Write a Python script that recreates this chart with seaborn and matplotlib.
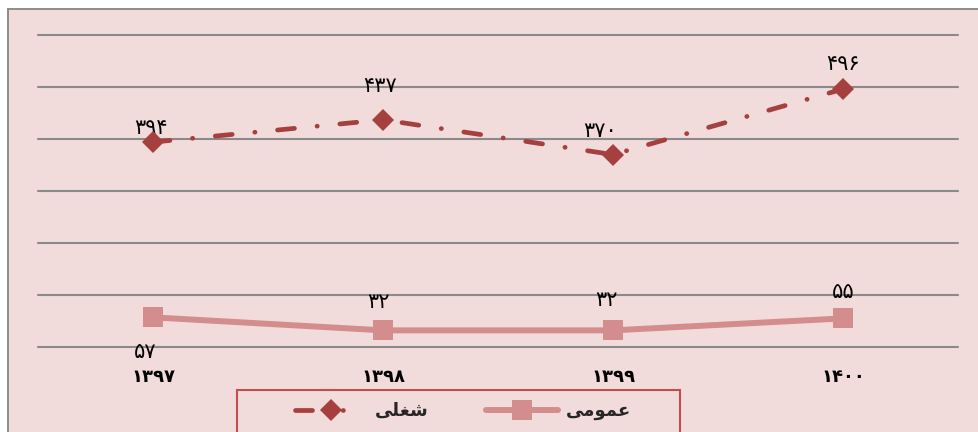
import matplotlib
matplotlib.use("Agg")
import matplotlib.pyplot as plt
from matplotlib.patches import Rectangle
import seaborn as sns
import pandas as pd

# Data
years = ["۱۳۹۷", "۱۳۹۸", "۱۳۹۹", "۱۴۰۰"]
shoghli = [394, 437, 370, 496]
omoomi = [57, 32, 32, 55]

# Persian labels written with presentation forms in visual (left-to-right) order
name_shoghli = "\uFBFD\uFEE0\uFED0\uFEB7"          # شغلی
name_omoomi = "\uFBFD\uFEE3\uFEEE\uFEE4\uFECB"     # عمومی

def fa_digits(n):
    return str(n).translate(str.maketrans("0123456789", "۰۱۲۳۴۵۶۷۸۹"))

sns.set_theme(style="white")
plt.rcParams["font.family"] = ["DejaVu Sans"]

W, H = 979, 432
fig = plt.figure(figsize=(W / 100, H / 100), dpi=100)
fig.patch.set_facecolor("white")

bg = "#F2DCDB"
# chart area background with its grey border
fig.add_artist(Rectangle((8 / W, -0.1), 1.2, (H - 9) / H + 0.1,
                         transform=fig.transFigure, facecolor=bg,
                         edgecolor="#8C8C8C", linewidth=1.4, zorder=-10))
# legend box
fig.add_artist(Rectangle((237 / W, -0.1), (680 - 237) / W, (H - 390) / H + 0.1,
                         transform=fig.transFigure, facecolor="none",
                         edgecolor="#C0504D", linewidth=1.5, zorder=-5))

ax = fig.add_axes([38 / W, (H - 347) / H, (958 - 38) / W, (347 - 35) / H])
ax.set_facecolor("none")
ax.set_zorder(1)

idx = list(range(len(years)))
df = pd.DataFrame({"idx": idx, "shoghli": shoghli, "omoomi": omoomi})

c_dark = "#A5403F"
c_light = "#D38D8C"
dash_pattern = (3.6, 4.8, 0.05, 4.8)

sns.lineplot(data=df, x="idx", y="shoghli", ax=ax, color=c_dark, marker="D",
             markersize=11.5, linewidth=3.4, markeredgewidth=0, label=name_shoghli,
             zorder=4)
l1 = ax.lines[-1]
l1.set_dashes(dash_pattern)
l1.set_dash_capstyle("round")

sns.lineplot(data=df, x="idx", y="omoomi", ax=ax, color=c_light, marker="s",
             markersize=14, linewidth=4.3, markeredgewidth=0, label=name_omoomi,
             zorder=3)

ax.set_xlim(-0.5, 3.5)
ax.set_ylim(0, 600)
ax.set_yticks(range(0, 601, 100))
ax.yaxis.grid(True, color="#8A8A8A", linewidth=1.5)
for gl in ax.get_ygridlines():
    gl.set_clip_on(False)
ax.xaxis.grid(False)
ax.tick_params(axis="y", left=False, labelleft=False)
ax.set_xticks(idx)
ax.set_xticklabels(years, fontsize=13, fontweight="bold", color="black")
ax.tick_params(axis="x", bottom=False, pad=9)
ax.set_xlabel("")
ax.set_ylabel("")
for s in ax.spines.values():
    s.set_visible(False)

# Value labels
off_top = [(-2, 14), (-3, 34), (-13, 24), (0, 25)]
off_bot = [(-8, -35), (-5, 28), (-7, 30), (0, 26)]
for i, v in enumerate(shoghli):
    ax.annotate(fa_digits(v), (i, v), xytext=off_top[i], textcoords="offset pixels",
                ha="center", va="center", fontsize=15, color="black")
for i, v in enumerate(omoomi):
    ax.annotate(fa_digits(v), (i, v), xytext=off_bot[i], textcoords="offset pixels",
                ha="center", va="center", fontsize=15, color="black")

ax.get_legend().remove()
h, l = ax.get_legend_handles_labels()
leg = fig.legend(h, l, loc="center",
                 bbox_to_anchor=(463 / W, (H - 411) / H),
                 ncol=2, frameon=False, borderaxespad=0,
                 handlelength=4.0, handletextpad=0.4, columnspacing=3.2,
                 prop={"size": 13, "weight": "bold"})
leg.get_lines()[0].set_dashes((3.6, 6.5, 0.05, 6.5))
leg.get_lines()[0].set_dash_capstyle("round")

fig.savefig("out.png", dpi=100)
